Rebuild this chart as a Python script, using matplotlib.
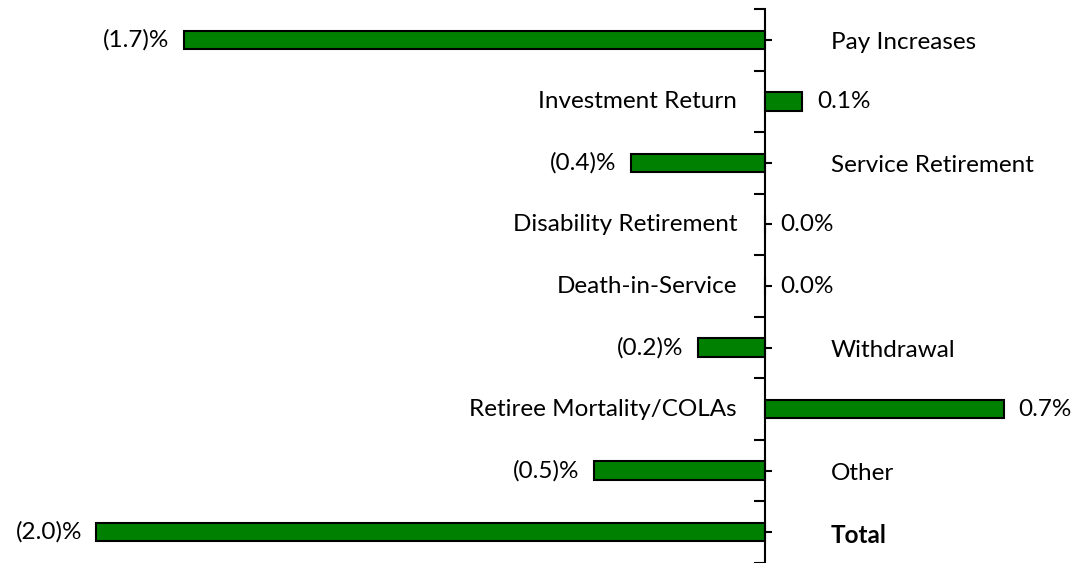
import matplotlib
matplotlib.use("Agg")
import matplotlib.pyplot as plt
import numpy as np

plt.rcParams['font.family'] = ['Lato', 'DejaVu Sans']

categories = ["Pay Increases", "Investment Return", "Service Retirement",
              "Disability Retirement", "Death-in-Service", "Withdrawal",
              "Retiree Mortality/COLAs", "Other", "Total"]
values = [-1.73, 0.11, -0.40, 0.0, 0.0, -0.20, 0.71, -0.51, -1.99]
value_labels = ["(1.7)%", "0.1%", "(0.4)%", "0.0%", "0.0%", "(0.2)%",
                "0.7%", "(0.5)%", "(2.0)%"]

fig = plt.figure(figsize=(10.9, 5.63), dpi=100)
ax = fig.add_axes([0, 0, 1, 1])

y = np.arange(len(categories))
ax.barh(y, values, height=0.3, color="#008000", edgecolor="black", linewidth=1.5, zorder=2)

ax.set_xlim(-765 / 336, 325 / 336)
ax.set_ylim(8.46, -0.647)

# axis line at zero with tick marks
for s in ["top", "right", "bottom"]:
    ax.spines[s].set_visible(False)
ax.spines["left"].set_position(("data", 0))
ax.spines["left"].set_bounds(-0.5, len(categories) - 0.5)
ax.spines["left"].set_linewidth(1.5)
ax.set_xticks([])
ax.set_yticks(np.arange(len(categories) + 1) - 0.5)
ax.set_yticks(y, minor=True)
ax.tick_params(axis="y", which="major", direction="out", length=8, width=1.5, labelleft=False)
ax.tick_params(axis="y", which="minor", direction="in", length=5, width=1.5, labelleft=False)

fs = 17.5
for i, (cat, v, lab) in enumerate(zip(categories, values, value_labels)):
    weight = "bold" if cat == "Total" else "normal"
    if v < 0:
        ax.annotate(cat, (0, i), xytext=(66, -3), textcoords="offset pixels",
                    ha="left", va="center", fontsize=fs, fontweight=weight)
        ax.annotate(lab, (v, i), xytext=(-14, 0), textcoords="offset pixels",
                    ha="right", va="center", fontsize=fs)
    else:
        ax.annotate(cat, (0, i), xytext=(-28, 0), textcoords="offset pixels",
                    ha="right", va="center", fontsize=fs, fontweight=weight)
        ax.annotate(lab, (v, i), xytext=(15, 0), textcoords="offset pixels",
                    ha="left", va="center", fontsize=fs)

fig.savefig("out.png", dpi=100)
